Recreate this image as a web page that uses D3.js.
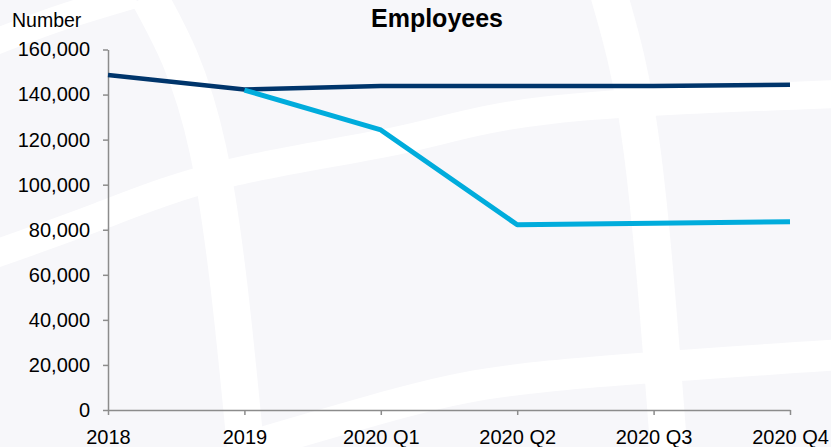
<!DOCTYPE html>
<html>
<head>
<meta charset="utf-8">
<script src="https://cdn.jsdelivr.net/npm/d3@7"></script>
<style>
    body { margin: 0; background: #ffffff; }
    svg { display: block; font-family: "Liberation Sans", Arial, sans-serif; }
</style>
</head>
<body>
<svg id="chart" width="831" height="447"></svg>
<script>
// Donnees
const categories = ["2018", "2019", "2020 Q1", "2020 Q2", "2020 Q3", "2020 Q4"];
const seriesDark = [148700, 142200, 143800, 143800, 143800, 144400];
const seriesLight = [null, 142000, 124300, 82200, 82900, 83600];
const yTicks = [0, 20000, 40000, 60000, 80000, 100000, 120000, 140000, 160000];

const width = 831, height = 447;
const margin = { left: 108, right: 41, top: 49.5, bottom: 37 };

const svg = d3.select("#chart");

// Fond gris clair avec bandes blanches decoratives
svg.append("rect")
    .attr("width", width)
    .attr("height", height)
    .attr("fill", "#f7f7fa");

const bands = [
    { pts: [[148, -5], [208, 150], [246, 452]], w: 37 },
    { pts: [[609, -5], [642, 150], [669, 452]], w: 37 },
    { pts: [[-5, 254], [100, 216], [230, 173], [400, 140], [550, 110], [836, 94]], w: 28 },
    { pts: [[230, 452], [400, 403], [550, 376], [836, 355]], w: 31 },
    { pts: [[-5, 42], [60, 18], [135, -5]], w: 26 }
];
const bandLine = d3.line().curve(d3.curveNatural);
svg.append("g")
    .selectAll("path")
    .data(bands)
    .enter()
    .append("path")
    .attr("d", d => bandLine(d.pts))
    .attr("fill", "none")
    .attr("stroke", "#ffffff")
    .attr("stroke-width", d => d.w);

// Echelles
const x = d3.scalePoint()
    .domain(categories)
    .range([margin.left, width - margin.right]);
const y = d3.scaleLinear()
    .domain([0, 160000])
    .range([height - margin.bottom, margin.top]);

// Axe Y
const yAxis = svg.append("g")
    .attr("transform", `translate(${margin.left},0)`)
    .call(d3.axisLeft(y)
        .tickValues(yTicks)
        .tickSize(5)
        .tickSizeOuter(0)
        .tickPadding(13)
        .tickFormat(d3.format(",")));

// Axe X
const xAxis = svg.append("g")
    .attr("transform", `translate(0,${height - margin.bottom})`)
    .call(d3.axisBottom(x)
        .tickSize(5)
        .tickSizeOuter(0)
        .tickPadding(15));

[yAxis, xAxis].forEach(ax => {
    ax.selectAll("path, line").attr("stroke", "#8c8c8c").attr("stroke-width", 1.5);
    ax.selectAll("text")
        .attr("fill", "#000")
        .style("font-size", "20px")
        .style("font-family", "'Liberation Sans', Arial, sans-serif");
});

// Lignes
const line = d3.line()
    .defined(d => d != null)
    .x((d, i) => x(categories[i]))
    .y(d => y(d));

svg.append("path")
    .datum(seriesDark)
    .attr("d", line)
    .attr("fill", "none")
    .attr("stroke", "#00356b")
    .attr("stroke-width", 4.5)
    .attr("stroke-linejoin", "round");

svg.append("path")
    .datum(seriesLight)
    .attr("d", line)
    .attr("fill", "none")
    .attr("stroke", "#00acdc")
    .attr("stroke-width", 5)
    .attr("stroke-linejoin", "round");

// Titres
svg.append("text")
    .attr("x", 437)
    .attr("y", 27)
    .attr("text-anchor", "middle")
    .style("font-size", "25px")
    .style("font-weight", "bold")
    .text("Employees");

svg.append("text")
    .attr("x", 12)
    .attr("y", 27)
    .style("font-size", "19.5px")
    .text("Number");
</script>
</body>
</html>
